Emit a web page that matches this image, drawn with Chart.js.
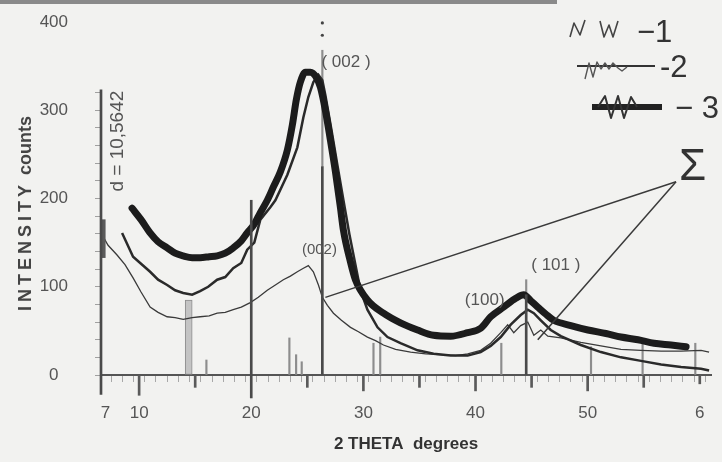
<!DOCTYPE html>
<html><head><meta charset="utf-8">
<script src="https://cdn.jsdelivr.net/npm/chart.js@4/dist/chart.umd.min.js"></script>
<style>html,body{margin:0;padding:0;background:#f2f2f0;}#wrap{width:722px;height:462px;position:relative;}</style>
</head><body><div id="wrap"><canvas id="c"></canvas></div>
<script>
// ---- axis ticks ----
const xTickValues = [7,8,9,10,11,12,13,14,15,16,17,18,19,20,21,22,23,24,25,26,27,28,29,30,31,32,33,34,35,36,37,38,39,40,41,42,43,44,45,46,47,48,49,50,51,52,53,54,55,56,57,58,59,60];
const xTickLabels = {7:'7',10:'10',20:'20',30:'30',40:'40',50:'50',60:'6'};
const yTickValues = [0,20,40,60,80,100,120,140,160,180,200,220,240,260,280,300,320,400];
const yTickLabels = [0,100,200,300,400];
const xTitle = '2 THETA  degrees';
const yTitle = ['INTENSITY', 'counts'];

// ---- series: [2theta, counts] ----
const sample1 = [[6.69,159],[7.23,147],[8.03,136],[8.74,125],[9.46,110],[10.17,94],[10.98,77],[11.69,71],[12.50,66],[13.21,65],[13.93,63],[14.73,65],[15.44,66],[16.25,67],[16.96,70],[17.68,71],[18.39,74],[19.11,77],[19.91,82],[20.63,88],[21.43,96],[22.15,102],[22.86,108],[23.49,112],[24.11,117],[24.65,121],[25.09,124],[25.54,117],[25.99,102],[26.34,88],[26.79,79],[27.33,70],[28.04,62],[28.85,54],[29.56,49],[30.36,43],[31.08,39],[31.79,34],[32.87,29],[34.21,26],[35.55,24],[36.89,23],[38.23,22],[39.30,24],[40.46,28],[41.35,36],[42.25,48],[42.87,57],[43.41,48],[44.03,56],[44.66,60],[45.20,45],[45.82,51],[46.45,44],[47.61,42],[49.39,37],[51.18,33],[52.97,29],[54.76,28],[56.55,27],[58.33,27],[60.11,28],[60.83,26]];
const sample2 = [[8.48,161],[9.46,134],[10.17,126],[10.98,117],[11.69,108],[12.50,102],[13.21,96],[13.93,93],[14.73,91],[15.44,95],[16.16,100],[16.96,108],[17.68,111],[18.39,121],[19.11,127],[19.64,142],[20.27,150],[20.81,176],[21.70,190],[22.15,198],[23.22,227],[24.11,258],[24.65,292],[25.09,315],[25.54,332],[25.99,340],[26.34,334],[26.61,317],[27.15,278],[27.68,238],[28.22,198],[28.76,159],[29.29,125],[29.74,96],[30.36,74],[31.26,54],[32.15,43],[33.31,36],[34.83,28],[36.26,24],[37.78,22],[39.30,22],[40.46,26],[41.35,33],[42.25,43],[43.14,57],[44.03,68],[44.66,74],[45.20,70],[45.82,62],[46.71,51],[47.61,44],[49.39,34],[51.18,26],[52.97,20],[54.76,16],[56.55,12],[58.33,9],[60.11,7],[60.83,5]];
const sample3 = [[9.37,189],[10.17,176],[10.98,161],[11.69,151],[12.50,144],[13.21,138],[13.93,135],[14.73,133],[15.44,133],[16.25,134],[16.96,135],[17.68,138],[18.39,144],[19.11,152],[19.64,161],[20.27,171],[20.81,184],[21.43,198],[21.97,213],[22.59,230],[23.22,255],[23.66,283],[24.02,312],[24.38,332],[24.83,343],[25.27,343],[25.81,337],[26.17,326],[26.61,300],[27.06,266],[27.51,230],[27.95,190],[28.22,164],[28.85,128],[29.29,108],[30.36,85],[31.79,70],[33.31,59],[34.83,51],[36.26,45],[37.78,44],[39.30,48],[40.46,53],[41.35,66],[42.52,77],[43.59,87],[44.30,91],[44.93,84],[45.55,77],[46.27,69],[46.98,62],[48.50,56],[50.02,51],[51.63,47],[52.97,43],[54.49,40],[55.92,36],[57.44,34],[58.78,32]];

// ---- reference sticks: [2theta, from, to] ----
const darkSticks = [[6.6,-22,323],[20,-26,198],[26.34,0,236],[44.52,0,91]];
const graySticks = [[16.0,0,17],[23.4,0,42],[24.0,0,23],[24.5,0,15],[26.34,236,368],[30.9,0,36],[31.5,0,43],[42.3,0,36],[44.52,91,108],[50.3,0,32],[54.9,0,40],[59.6,0,36]];
const wideSticks = [[14.42,0,85]];
const startBlock = [[6.8,133,176]];
const axisMarks = [[10,-23,0],[15,-14,0],[25,-14,0],[30,-18,0],[35,-14,0],[40,-18,0],[45,-14,0],[50,-18,0],[55,-14,0],[60,-10,0]];
const dotMarks = [[26.34,399],[26.34,385]];

// ---- Σ pointers ----
const sigmaPointerA = [[57.88,219],[26.61,88]];
const sigmaPointerB = [[57.88,219],[45.55,40]];

// ---- annotations: [text, 2theta, counts, size] ----
const peakLabels = [['( 002 )',28.45,349,17],['(002)',26.08,137,15],['(100)',40.82,79,17],['( 101 )',47.16,119,17]];
const dLabel = ['d = 10,5642',8.12,265];
const sigmaLabel = ['Σ',58.15,221];
const legendNames = ['−1','-2','− 3'];

const xy = a => a.map(([x,y]) => ({x,y}));
const fl = a => a.map(([x,a0,b0]) => ({x, y:[a0,b0]}));

const FONT = "'Liberation Sans', Arial, sans-serif";
Chart.defaults.font.family = FONT;

const annot = {
  id: 'annot',
  beforeDraw(chart) {
    const {ctx, width, height} = chart;
    ctx.save();
    ctx.fillStyle = '#f2f2f0'; ctx.fillRect(0,0,width,height);
    ctx.fillStyle = '#8a8a8a'; ctx.fillRect(0,0,557,4);
    ctx.restore();
  },
  afterDraw(chart) {
    const {ctx, chartArea} = chart;
    const sx = chart.scales.x, sy = chart.scales.y;
    ctx.save();
    // y axis title (spaced capitals)
    ctx.save();
    ctx.translate(31, 311);
    ctx.rotate(-Math.PI/2);
    ctx.fillStyle = '#444';
    ctx.textAlign = 'left'; ctx.textBaseline = 'alphabetic';
    ctx.font = 'bold 18px ' + FONT;
    ctx.letterSpacing = '4px';
    ctx.fillText(yTitle[0], 0, 0);
    const w0 = ctx.measureText(yTitle[0]).width;
    ctx.letterSpacing = '0px';
    ctx.fillText(yTitle[1], w0 + 6, 0);
    ctx.restore();

    ctx.fillStyle = '#555';
    ctx.textAlign = 'center';
    ctx.textBaseline = 'alphabetic';
    peakLabels.forEach(([t,a,b,s]) => {
      ctx.font = s + 'px ' + FONT;
      ctx.fillText(t, sx.getPixelForValue(a), sy.getPixelForValue(b));
    });
    // d label rotated
    ctx.save();
    ctx.translate(sx.getPixelForValue(dLabel[1]), sy.getPixelForValue(dLabel[2]));
    ctx.rotate(-Math.PI/2);
    ctx.font = '19px ' + FONT; ctx.textBaseline = 'middle';
    ctx.fillText(dLabel[0], 0, 0);
    ctx.restore();
    // sigma
    ctx.fillStyle = '#333';
    ctx.font = '44px ' + FONT; ctx.textAlign = 'left';
    ctx.fillText(sigmaLabel[0], sx.getPixelForValue(sigmaLabel[1]), sy.getPixelForValue(sigmaLabel[2]));
    // legend
    const R = chartArea.right;
    const rows = [{tx:R-74, ty:42}, {tx:R-51, ty:77}, {tx:R-36, ty:118}];
    ctx.font = '31px ' + FONT;
    rows.forEach((r,i) => ctx.fillText(legendNames[i], r.tx, r.ty));
    const poly = (pts, w, c) => { ctx.beginPath(); ctx.lineWidth = w; ctx.strokeStyle = c; ctx.lineJoin='round';
      pts.forEach(([px,py],k) => k ? ctx.lineTo(px,py) : ctx.moveTo(px,py)); ctx.stroke(); };
    let {tx, ty} = rows[0];
    poly([[tx-67,ty-5],[tx-63,ty-19],[tx-57,ty-7],[tx-52,ty-22]], 1.6, '#444');
    poly([[tx-37,ty-21],[tx-33,ty-5],[tx-28,ty-17],[tx-24,ty-5],[tx-19,ty-21]], 1.6, '#444');
    ({tx, ty} = rows[1]);
    poly([[tx-83,ty-11],[tx-5,ty-11]], 2, '#333');
    poly([[tx-75,ty+2],[tx-71,ty-14],[tx-67,ty],[tx-63,ty-15],[tx-59,ty-8],[tx-55,ty-14],[tx-51,ty-8],[tx-47,ty-14],[tx-42,ty-9],[tx-38,ty-6],[tx-33,ty-10]], 1.4, '#555');
    ({tx, ty} = rows[2]);
    poly([[tx-83,ty-11],[tx-13,ty-11]], 6, '#222');
    poly([[tx-77,ty-11],[tx-70,ty-22],[tx-64,ty],[tx-57,ty-22],[tx-51,ty],[tx-44,ty-21],[tx-38,ty-11]], 2, '#333');
    ctx.restore();
  }
};

const barDs = (data, color, thick, order, extra={}) => Object.assign({
  type:'bar', data: fl(data), backgroundColor: color, barThickness: thick, grouped:false,
  clip:false, order, borderWidth:0, borderSkipped:false }, extra);

new Chart(document.getElementById('c'), {
  data: {
    datasets: [
      barDs(wideSticks, '#c4c4c4', 7, 20, {borderWidth:1, borderColor:'#8c8c8c'}),
      barDs(graySticks, '#8d8d8d', 1.5, 19),
      barDs(axisMarks, '#5a5a5a', 2, 18),
      {type:'line', data: xy(sample1), borderColor:'#3a3a3a', borderWidth:1.3, pointRadius:0, tension:0, order:9},
      {type:'line', data: xy(sample2), borderColor:'#2a2a2a', borderWidth:2.5, pointRadius:0, tension:0, order:8},
      {type:'line', data: xy(sample3), borderColor:'#1c1c1c', borderWidth:7, pointRadius:0, cubicInterpolationMode:'monotone', borderCapStyle:'round', order:7},
      barDs(darkSticks, '#4a4a4a', 2, 5),
      barDs(startBlock, '#5a5a5a', 4, 5),
      {type:'scatter', data: xy(dotMarks), pointRadius:1.6, pointBackgroundColor:'#444', pointBorderWidth:0, clip:false, order:4},
      {type:'line', data: xy(sigmaPointerA), borderColor:'#3a3a3a', borderWidth:1.5, pointRadius:0, order:3},
      {type:'line', data: xy(sigmaPointerB), borderColor:'#3a3a3a', borderWidth:1.5, pointRadius:0, order:3}
    ]
  },
  options: {
    responsive:true, maintainAspectRatio:false, animation:false, devicePixelRatio:1, events:[],
    layout:{padding:{left:0,right:11,top:22,bottom:0}},
    plugins:{legend:{display:false}, tooltip:{enabled:false}},
    scales:{
      x:{type:'linear', min:6.6, max:61, offset:false,
        afterBuildTicks: s => { s.ticks = xTickValues.map(v => ({value:v})); },
        afterFit: s => { s.height = 87; s.paddingLeft = 0; s.paddingRight = 0; },
        ticks:{autoSkip:false, maxRotation:0, color:'#555', font:{size:17}, padding:21,
          callback: v => xTickLabels[v] !== undefined ? xTickLabels[v] : ''},
        grid:{drawOnChartArea:false, tickLength:7, tickColor:'#a8a8a8'},
        border:{display:true, color:'#555', width:2},
        title:{display:true, text:xTitle, color:'#333', font:{size:17, weight:'bold'}, padding:{top:0,bottom:7}}
      },
      y:{type:'linear', min:0, max:400,
        afterBuildTicks: s => { s.ticks = yTickValues.map(v => ({value:v})); },
        afterFit: s => { s.width = 101; s.paddingTop = 0; s.paddingBottom = 0; },
        ticks:{autoSkip:false, color:'#555', font:{size:17}, padding:27, crossAlign:'center',
          callback: v => yTickLabels.includes(v) ? String(v) : ''},
        grid:{drawOnChartArea:false, tickLength:6, tickColor: c => (c.tick && c.tick.value === 400) ? 'rgba(0,0,0,0)' : '#a0a0a0'},
        border:{display:false},
        title:{display:false}
      }
    }
  },
  plugins:[annot]
});
</script></body></html>
